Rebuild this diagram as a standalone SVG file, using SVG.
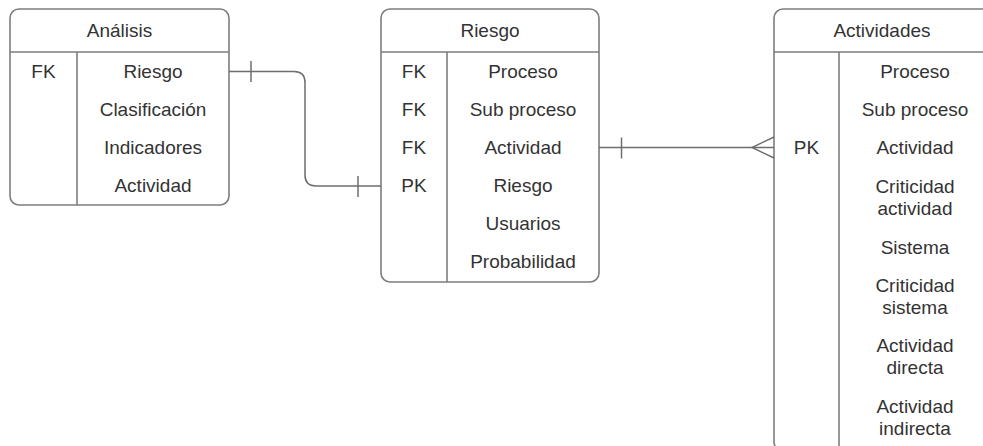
<svg xmlns="http://www.w3.org/2000/svg" width="983" height="446" viewBox="0 0 983 446">
  <style>
    .box { fill: #ffffff; stroke: #7d7d7d; stroke-width: 1.6; }
    .div { stroke: #7d7d7d; stroke-width: 1.6; fill: none; }
    .edge { stroke: #6e6e6e; stroke-width: 1.5; fill: none; }
    text { font-family: "Liberation Sans", Arial, sans-serif; font-size: 19px; fill: #333333; text-anchor: middle; dominant-baseline: central; }
  </style>
  <rect width="983" height="446" fill="#ffffff"/>

  <g id="analisis">
    <rect class="box" x="10" y="9" width="219" height="196" rx="9"/>
    <line class="div" x1="10" y1="52" x2="229" y2="52"/>
    <line class="div" x1="77" y1="52" x2="77" y2="205"/>
    <text x="119.5" y="30">Análisis</text>
    <text x="43.5" y="71">FK</text>
    <text x="153" y="71">Riesgo</text>
    <text x="153" y="109">Clasificación</text>
    <text x="153" y="147">Indicadores</text>
    <text x="153" y="185">Actividad</text>
  </g>

  <g id="riesgo">
    <rect class="box" x="381" y="9" width="218" height="273" rx="9"/>
    <line class="div" x1="381" y1="52" x2="599" y2="52"/>
    <line class="div" x1="447" y1="52" x2="447" y2="282"/>
    <text x="490" y="30">Riesgo</text>
    <text x="414" y="71">FK</text>
    <text x="414" y="109">FK</text>
    <text x="414" y="147">FK</text>
    <text x="414" y="185">PK</text>
    <text x="523" y="71">Proceso</text>
    <text x="523" y="109">Sub proceso</text>
    <text x="523" y="147">Actividad</text>
    <text x="523" y="185">Riesgo</text>
    <text x="523" y="223">Usuarios</text>
    <text x="523" y="261">Probabilidad</text>
  </g>

  <g id="actividades">
    <rect class="box" x="774" y="9" width="217" height="442" rx="9"/>
    <line class="div" x1="774" y1="52" x2="991" y2="52"/>
    <line class="div" x1="839" y1="52" x2="839" y2="451"/>
    <text x="882" y="30">Actividades</text>
    <text x="806.5" y="147">PK</text>
    <text x="915" y="71">Proceso</text>
    <text x="915" y="109">Sub proceso</text>
    <text x="915" y="147">Actividad</text>
    <text x="915" y="186">Criticidad</text>
    <text x="915" y="208.5">actividad</text>
    <text x="915" y="247">Sistema</text>
    <text x="915" y="285">Criticidad</text>
    <text x="915" y="307.5">sistema</text>
    <text x="915" y="345">Actividad</text>
    <text x="915" y="367.5">directa</text>
    <text x="915" y="406">Actividad</text>
    <text x="915" y="428.5">indirecta</text>
  </g>

  <g id="connectors">
    <!-- Análisis.Riesgo to Riesgo.PK : one to one -->
    <path class="edge" d="M229 71.5 H294 Q305 71.5 305 82.5 V175 Q305 186 316 186 H381"/>
    <line class="edge" x1="251" y1="61" x2="251" y2="82"/>
    <line class="edge" x1="358" y1="176" x2="358" y2="197"/>
    <!-- Riesgo.Actividad to Actividades.PK : one to many -->
    <line class="edge" x1="599" y1="147.5" x2="774" y2="147.5"/>
    <line class="edge" x1="621.5" y1="137.5" x2="621.5" y2="158.5"/>
    <path class="edge" d="M774 137 L752 147.5 L774 158"/>
  </g>
</svg>
